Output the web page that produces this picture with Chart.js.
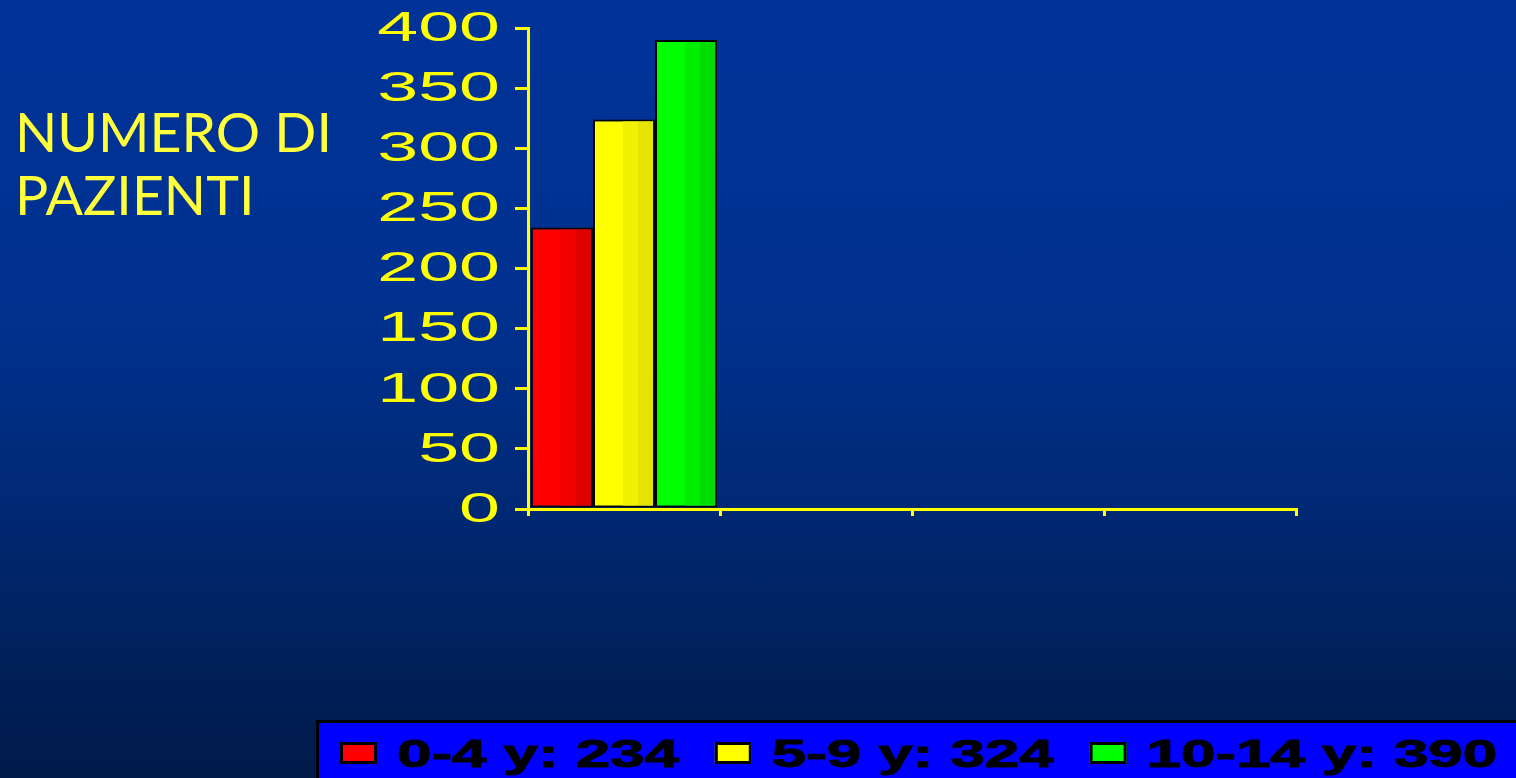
<!DOCTYPE html>
<html>
<head>
<meta charset="utf-8">
<script src="https://cdn.jsdelivr.net/npm/chart.js@4.4.0/dist/chart.umd.min.js"></script>
<style>
  html, body { margin: 0; padding: 0; }
  body {
    width: 1516px; height: 778px; overflow: hidden;
    background: linear-gradient(to bottom, #003399 0%, #00318f 40%, #002a78 62%, #00205a 85%, #001a4a 100%);
  }
</style>
</head>
<body>
<canvas id="myChart" width="1516" height="778"></canvas>
<script>
// categories on the x axis (only the first one holds data)
var categories = ['', '', '', ''];
// age groups and patient counts
var ageGroups = ['0-4 y', '5-9 y', '10-14 y'];
var patientCounts = [234, 324, 390];
// y axis range
var yMin = 0;
var yMax = 400;
var yStep = 50;
var axisTitle = ['NUMERO DI', 'PAZIENTI'];

// three vertical shades per bar: light, mid, dark
var barShades = [
  ['#ff0000', '#f10000', '#e00000'],
  ['#ffff00', '#f0f000', '#e4e400'],
  ['#00ff00', '#00ee00', '#00dd00']
];

var datasets = ageGroups.map(function(g, i) {
  return {
    label: g,
    data: categories.map(function(c, j) { return j === 0 ? patientCounts[i] : null; }),
    backgroundColor: barShades[i][0],
    borderColor: '#000000',
    borderWidth: 2,
    borderSkipped: false,
    categoryPercentage: 0.97,
    barPercentage: 1
  };
});

// darker stripes on the right part of each bar
var barStripes = {
  id: 'barStripes',
  afterDatasetDraw: function(chart, args) {
    var ctx = chart.ctx;
    var shades = barShades[args.index];
    var values = chart.data.datasets[args.index].data;
    args.meta.data.forEach(function(el, j) {
      if (values[j] == null || !isFinite(el.x) || !isFinite(el.y)) return;
      var bw = 2;
      var x0 = el.x - el.width / 2 + bw, x1 = el.x + el.width / 2 - bw;
      var top = Math.min(el.y, el.base) + bw, bottom = Math.max(el.y, el.base) - bw;
      var w = x1 - x0;
      ctx.save();
      ctx.fillStyle = shades[1];
      ctx.fillRect(x0 + w * 0.48, top, w * 0.26, bottom - top);
      ctx.fillStyle = shades[2];
      ctx.fillRect(x0 + w * 0.74, top, w * 0.26, bottom - top);
      ctx.restore();
    });
  }
};

// wide tick numbers, side title and the boxed legend
var decorations = {
  id: 'decorations',
  afterDraw: function(chart) {
    var ctx = chart.ctx;
    var y = chart.scales.y;

    ctx.save();
    ctx.fillStyle = '#ffff00';
    ctx.font = '43px "Liberation Sans", Arial, sans-serif';
    ctx.textAlign = 'right';
    ctx.textBaseline = 'middle';
    y.ticks.forEach(function(t, i) {
      var py = y.getPixelForTick(i);
      ctx.save();
      ctx.translate(y.right - 28, py + 1);
      ctx.scale(1.71, 1);
      ctx.fillText(t.label, 0, 0);
      ctx.restore();
    });
    ctx.restore();

    // side title
    ctx.save();
    ctx.fillStyle = '#ffff3c';
    ctx.font = '54px Lato, "Open Sans", sans-serif';
    ctx.textAlign = 'left';
    ctx.textBaseline = 'alphabetic';
    var sx = 317 / ctx.measureText(axisTitle[0]).width;
    [152, 215].forEach(function(base, i) {
      ctx.save();
      ctx.translate(15, base);
      ctx.scale(sx, 1);
      ctx.fillText(axisTitle[i], 0, 0);
      ctx.restore();
    });
    ctx.restore();

    // legend box
    ctx.save();
    ctx.fillStyle = '#0000ff';
    ctx.fillRect(317, 721, 1300, 100);
    ctx.strokeStyle = '#000000';
    ctx.lineWidth = 3;
    ctx.strokeRect(317.5, 721.5, 1300, 100);
    ctx.font = 'bold 39px "Liberation Sans", Arial, sans-serif';
    ctx.textBaseline = 'alphabetic';
    ctx.textAlign = 'left';
    var stretch = 1.585;
    var x = 340;
    chart.data.datasets.forEach(function(ds, i) {
      ctx.fillStyle = barShades[i][0];
      ctx.fillRect(x, 742, 37, 22);
      ctx.strokeStyle = '#000000';
      ctx.lineWidth = 3;
      ctx.strokeRect(x + 1.5, 743.5, 34, 19);
      var text = ds.label + ': ' + ds.data[0];
      var tx = x + 57;
      ctx.save();
      ctx.translate(tx, 767);
      ctx.scale(stretch, 1);
      ctx.fillStyle = '#000000';
      ctx.strokeStyle = '#000000';
      ctx.lineWidth = 1;
      ctx.fillText(text, 0, 0);
      ctx.strokeText(text, 0, 0);
      ctx.restore();
      x = tx + ctx.measureText(text).width * stretch + 36;
    });
    ctx.restore();
  }
};

function renderChart() {
  var ctx = document.getElementById('myChart').getContext('2d');
  var myChart = new Chart(ctx, {
    type: 'bar',
    data: {
      labels: categories,
      datasets: datasets
    },
    options: {
      responsive: false,
      animation: false,
      layout: { padding: { left: 515, right: 220, top: 28, bottom: 262 } },
      plugins: {
        legend: { display: false },
        tooltip: { enabled: false }
      },
      scales: {
        x: {
          grid: { offset: true, drawOnChartArea: false, color: '#ffff00', lineWidth: 3, tickLength: 7 },
          border: { color: '#ffff00', width: 3 },
          ticks: { display: false }
        },
        y: {
          min: yMin,
          max: yMax,
          ticks: { stepSize: yStep, display: false },
          grid: { drawOnChartArea: false, color: '#ffff00', lineWidth: 3, tickLength: 13 },
          border: { color: '#ffff00', width: 3 }
        }
      }
    },
    plugins: [barStripes, decorations]
  });
}
document.addEventListener('DOMContentLoaded', renderChart);
</script>
</body>
</html>
